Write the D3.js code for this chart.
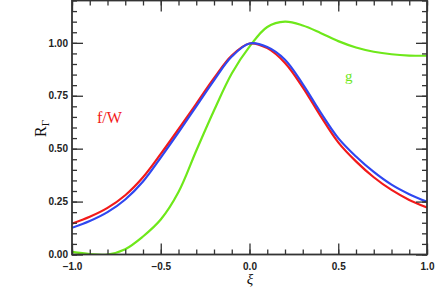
<!DOCTYPE html>
<html><head><meta charset="utf-8">
<script src="https://cdn.jsdelivr.net/npm/d3@7"></script>
<style>body{margin:0;background:#fff}svg{display:block}</style>
</head><body>
<svg id="c" width="436" height="291"></svg>
<script>
const xs = [-1.0,-0.9,-0.8,-0.7,-0.6,-0.5,-0.4,-0.3,-0.2,-0.1,0.0,0.1,0.2,0.3,0.4,0.5,0.6,0.7,0.8,0.9,1.0];
const fW = [0.146,0.178,0.22,0.28,0.365,0.475,0.592,0.712,0.833,0.94,0.997,0.975,0.905,0.79,0.655,0.53,0.44,0.365,0.305,0.258,0.222];
const fB = [0.126,0.158,0.2,0.26,0.345,0.458,0.577,0.70,0.823,0.935,0.997,0.98,0.92,0.805,0.672,0.55,0.463,0.39,0.33,0.285,0.249];
const gV = [0.012,0.002,0.0,0.025,0.085,0.165,0.295,0.49,0.68,0.855,0.982,1.075,1.10,1.082,1.047,1.008,0.978,0.958,0.946,0.94,0.939];
const xMajor = [-1.0,-0.5,0.0,0.5,1.0];
const yMajor = [0.00,0.25,0.50,0.75,1.00];

const svg = d3.select("#c");
const L=72,R=427,T=0.5,B=254.5;
const x = d3.scaleLinear([-1,1],[L,R]);
const y = d3.scaleLinear([0,1.2],[B,T]);

const line = d3.line().x(d=>x(d[0])).y(d=>y(Math.max(d[1],-0.005))).curve(d3.curveCatmullRom.alpha(0.5));
const series = [
  {v:fW, c:"#f21a1a"},
  {v:fB, c:"#2f47f0"},
  {v:gV, c:"#6ee81a"}
];
svg.append("clipPath").attr("id","clp").append("rect").attr("x",L).attr("y",T).attr("width",R-L).attr("height",B-T);
const g = svg.append("g").attr("clip-path","url(#clp)");
[series[2],series[0],series[1]].forEach(s=>{
  g.append("path").datum(xs.map((xv,i)=>[xv,s.v[i]]))
   .attr("d",line).attr("fill","none").attr("stroke",s.c).attr("stroke-width",2.2);
});

const ac="#333";
const xMinor = d3.range(-10,11).map(i=>i/10);
const yMinor = d3.range(0,25).map(i=>i/20);
function styleAxis(sel){sel.select(".domain").remove();sel.selectAll("line").attr("stroke",ac).attr("stroke-width",1.3);}
svg.append("g").attr("transform",`translate(0,${B})`).call(d3.axisBottom(x).tickValues(xMinor).tickSize(-5).tickFormat("")).call(styleAxis);
svg.append("g").attr("transform",`translate(0,${B})`).call(d3.axisBottom(x).tickValues(xMajor).tickSize(-11).tickFormat(d3.format(".1f"))).call(styleAxis)
  .call(s=>s.selectAll("text").attr("font-family","Liberation Sans, Arial, sans-serif").attr("font-weight","bold").attr("font-size",10).attr("fill","#222").attr("dy","0.71em").attr("y",8));
svg.append("g").attr("transform",`translate(0,${T})`).call(d3.axisTop(x).tickValues(xMinor).tickSize(-5).tickFormat("")).call(styleAxis);
svg.append("g").attr("transform",`translate(0,${T})`).call(d3.axisTop(x).tickValues(xMajor).tickSize(-11).tickFormat("")).call(styleAxis);
svg.append("g").attr("transform",`translate(${L},0)`).call(d3.axisLeft(y).tickValues(yMinor).tickSize(-5).tickFormat("")).call(styleAxis);
svg.append("g").attr("transform",`translate(${L},0)`).call(d3.axisLeft(y).tickValues(yMajor).tickSize(-11).tickFormat(d3.format(".2f"))).call(styleAxis)
  .call(s=>s.selectAll("text").attr("font-family","Liberation Sans, Arial, sans-serif").attr("font-weight","bold").attr("font-size",10).attr("fill","#222").attr("x",-4));
svg.append("g").attr("transform",`translate(${R},0)`).call(d3.axisRight(y).tickValues(yMinor).tickSize(-5).tickFormat("")).call(styleAxis);
svg.append("g").attr("transform",`translate(${R},0)`).call(d3.axisRight(y).tickValues(yMajor).tickSize(-11).tickFormat("")).call(styleAxis);
svg.append("rect").attr("x",L).attr("y",T).attr("width",R-L).attr("height",B-T).attr("fill","none").attr("stroke",ac).attr("stroke-width",1.8);

svg.append("text").attr("x",97).attr("y",123).attr("font-family","Liberation Serif, Times New Roman, serif").attr("font-size",16).attr("fill","#f21a1a").text("f/W");
svg.append("text").attr("x",345).attr("y",81).attr("font-family","Liberation Serif, Times New Roman, serif").attr("font-size",15).attr("fill","#6ee81a").text("g");
svg.append("text").attr("x",250).attr("y",284).attr("text-anchor","middle").attr("font-family","Liberation Serif, Times New Roman, serif").attr("font-style","italic").attr("font-size",15).attr("fill","#111").text("ξ");
const yl = svg.append("text").attr("transform","translate(46,137) rotate(-90)").attr("font-family","Liberation Serif, Times New Roman, serif").attr("font-size",16).attr("fill","#111");
yl.append("tspan").text("R");
yl.append("tspan").attr("font-size",11).attr("dy",3).text("Γ");
</script>
</body></html>
